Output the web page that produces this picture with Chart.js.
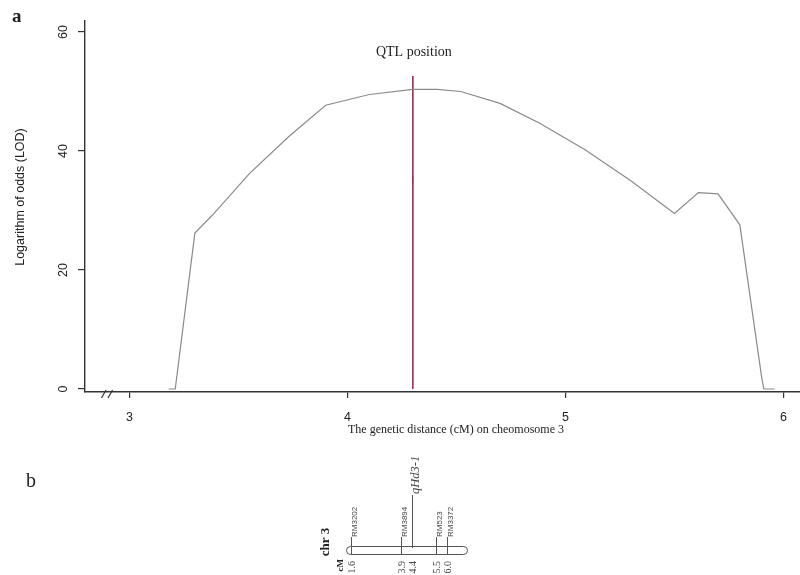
<!DOCTYPE html>
<html>
<head>
<meta charset="utf-8">
<script src="https://cdn.jsdelivr.net/npm/chart.js@4.4.0/dist/chart.umd.min.js"></script>
<style>
  body { margin: 0; background: #fff; }
  #wrap { position: relative; width: 800px; height: 575px; }
  canvas { position: absolute; left: 0; top: 0; }
</style>
</head>
<body>
<div id="wrap">
  <canvas id="lodChart" width="800" height="575"></canvas>
  <canvas id="mapChart" width="800" height="575"></canvas>
</div>
<script>
// panel a: LOD profile on chr 3
const lodX = [3.18, 3.21, 3.30, 3.38, 3.55, 3.73, 3.90, 4.10, 4.30, 4.41, 4.52, 4.70, 4.88, 5.09, 5.30, 5.50, 5.61, 5.70, 5.80, 5.90, 5.91, 5.96];
const lodY = [0, 0, 26.2, 29.2, 36.2, 42.4, 47.7, 49.5, 50.35, 50.35, 50.0, 48.0, 44.7, 40.2, 35.0, 29.5, 33.0, 32.8, 27.6, 2.0, 0, 0];
const xTicks = [3, 4, 5, 6];
const yTicks = [0, 20, 40, 60];
const qtlPos = 4.3;
const qtlLine = [0, 52.6];
const qtlMark = [34.6, 35.9];

// panel b: linkage map
const markerNames = ["RM3202", "RM3894", "RM523", "RM3372"];
const markerCM = [1.6, 3.9, 5.5, 6.0];
const qtlName = "qHd3-1";
const qtlCM = 4.4;
const cmLabels = [1.6, 3.9, 4.4, 5.5, 6.0];
const chrRange = [1.36, 6.9];

const SANS = "'Liberation Sans', Arial, sans-serif";
const SERIF = "'Liberation Serif', 'Times New Roman', serif";

const lodDecor = {
  id: "lodDecor",
  afterDraw(chart) {
    const ctx = chart.ctx;
    const x = chart.scales.x, y = chart.scales.y;
    ctx.save();
    ctx.fillStyle = "#222";

    // rotated y tick labels, R style
    ctx.font = "12.5px " + SANS;
    ctx.textAlign = "center";
    ctx.textBaseline = "middle";
    yTicks.forEach(v => {
      ctx.save();
      ctx.translate(64, y.getPixelForValue(v));
      ctx.rotate(-Math.PI / 2);
      ctx.fillText(String(v), 0, 0);
      ctx.restore();
    });

    ctx.save();
    ctx.translate(21, 197);
    ctx.rotate(-Math.PI / 2);
    ctx.fillText("Logarithm of odds (LOD)", 0, 0);
    ctx.restore();

    ctx.font = "12px " + SERIF;
    ctx.fillText("The genetic distance (cM) on cheomosome 3", 456, 430);

    ctx.font = "14px " + SERIF;
    ctx.fillText("QTL position", x.getPixelForValue(qtlPos) + 1, 52);

    ctx.textAlign = "left";
    ctx.textBaseline = "alphabetic";
    ctx.font = "bold 19px " + SERIF;
    ctx.fillText("a", 12, 22);
    ctx.font = "20px " + SERIF;
    ctx.fillText("b", 26, 487);

    // axis break
    const by = chart.chartArea.bottom;
    ctx.strokeStyle = "#333";
    ctx.lineWidth = 1.2;
    ctx.beginPath();
    ctx.moveTo(101.5, by + 6); ctx.lineTo(106, by - 2);
    ctx.moveTo(108, by + 6); ctx.lineTo(112.5, by - 2);
    ctx.stroke();
    ctx.restore();
  }
};

new Chart(document.getElementById("lodChart"), {
  type: "scatter",
  data: {
    datasets: [
      {
        data: lodX.map((v, i) => ({ x: v, y: lodY[i] })),
        showLine: true, borderColor: "#8a8a8a", borderWidth: 1.2, pointRadius: 0, tension: 0
      },
      {
        data: qtlLine.map(v => ({ x: qtlPos, y: v })),
        showLine: true, borderColor: "#a5284e", borderWidth: 1.6, pointRadius: 0
      },
      {
        data: qtlMark.map(v => ({ x: qtlPos, y: v })),
        showLine: true, borderColor: "#e8a040", borderWidth: 1.6, pointRadius: 0
      }
    ]
  },
  options: {
    responsive: false,
    animation: false,
    devicePixelRatio: 1,
    layout: { padding: { left: 45, top: 21, right: 0, bottom: 143 } },
    plugins: { legend: { display: false }, tooltip: { enabled: false } },
    scales: {
      x: {
        type: "linear", min: 2.796, max: 6.076,
        afterBuildTicks: s => { s.ticks = xTicks.map(v => ({ value: v })); },
        afterFit: s => { s.height = 40; },
        grid: { drawOnChartArea: false, tickLength: 6, color: "#333", lineWidth: 1.2 },
        border: { color: "#333", width: 1.4 },
        ticks: { color: "#222", padding: 12, font: { family: SANS, size: 12.5 } }
      },
      y: {
        type: "linear", min: -0.5, max: 61.85,
        afterBuildTicks: s => { s.ticks = yTicks.map(v => ({ value: v })); },
        afterFit: s => { s.width = 40; },
        grid: { drawOnChartArea: false, tickLength: 7, color: "#333", lineWidth: 1.2 },
        border: { color: "#333", width: 1.4 },
        ticks: { display: false }
      }
    }
  },
  plugins: [lodDecor]
});

const mapDraw = {
  id: "mapDraw",
  afterDraw(chart) {
    const ctx = chart.ctx;
    const x = chart.scales.x;
    const a = chart.chartArea;
    ctx.save();
    ctx.strokeStyle = "#555";
    ctx.fillStyle = "#444";
    ctx.lineWidth = 1;

    // chromosome bar
    ctx.beginPath();
    ctx.roundRect(a.left + 0.5, a.top + 0.5, a.right - a.left, a.bottom - a.top, (a.bottom - a.top) / 2);
    ctx.stroke();

    ctx.textBaseline = "middle";
    // markers
    ctx.font = "8px " + SANS;
    markerNames.forEach((name, i) => {
      const px = Math.round(x.getPixelForValue(markerCM[i])) + 0.5;
      ctx.beginPath();
      ctx.moveTo(px, a.bottom);
      ctx.lineTo(px, a.top - 9);
      ctx.stroke();
      ctx.save();
      ctx.translate(px + 3, a.top - 9);
      ctx.rotate(-Math.PI / 2);
      ctx.textAlign = "left";
      ctx.fillText(name, 0, 0);
      ctx.restore();
    });

    // QTL
    const qx = Math.round(x.getPixelForValue(qtlCM)) + 0.5;
    ctx.beginPath();
    ctx.moveTo(qx, a.top + 2);
    ctx.lineTo(qx, a.top - 51);
    ctx.stroke();
    ctx.save();
    ctx.translate(qx + 3.5, a.top - 52);
    ctx.rotate(-Math.PI / 2);
    ctx.textAlign = "left";
    ctx.font = "italic 12.5px " + SERIF;
    ctx.fillText(qtlName, 0, 0);
    ctx.restore();

    // cM positions below the bar
    ctx.font = "10px " + SERIF;
    cmLabels.forEach(v => {
      ctx.save();
      ctx.translate(x.getPixelForValue(v) + 1, a.bottom + 7);
      ctx.rotate(-Math.PI / 2);
      ctx.textAlign = "right";
      ctx.fillText(v.toFixed(1), 0, 0);
      ctx.restore();
    });

    ctx.fillStyle = "#222";
    ctx.save();
    ctx.translate(a.left - 5, a.bottom + 5);
    ctx.rotate(-Math.PI / 2);
    ctx.textAlign = "right";
    ctx.font = "bold 9px " + SERIF;
    ctx.fillText("cM", 0, 0);
    ctx.restore();

    ctx.save();
    ctx.translate(a.left - 20, a.top - 4);
    ctx.rotate(-Math.PI / 2);
    ctx.textAlign = "center";
    ctx.font = "bold 13px " + SERIF;
    ctx.fillText("chr 3", 0, 0);
    ctx.restore();
    ctx.restore();
  }
};

new Chart(document.getElementById("mapChart"), {
  type: "scatter",
  data: { datasets: [{ data: markerCM.map(v => ({ x: v, y: 0 })), pointRadius: 0 }] },
  options: {
    responsive: false,
    animation: false,
    devicePixelRatio: 1,
    layout: { padding: { left: 346, right: 333, top: 546, bottom: 21 } },
    plugins: { legend: { display: false }, tooltip: { enabled: false } },
    scales: {
      x: { type: "linear", min: chrRange[0], max: chrRange[1], display: false },
      y: { type: "linear", min: -1, max: 1, display: false }
    }
  },
  plugins: [mapDraw]
});
</script>
</body>
</html>
